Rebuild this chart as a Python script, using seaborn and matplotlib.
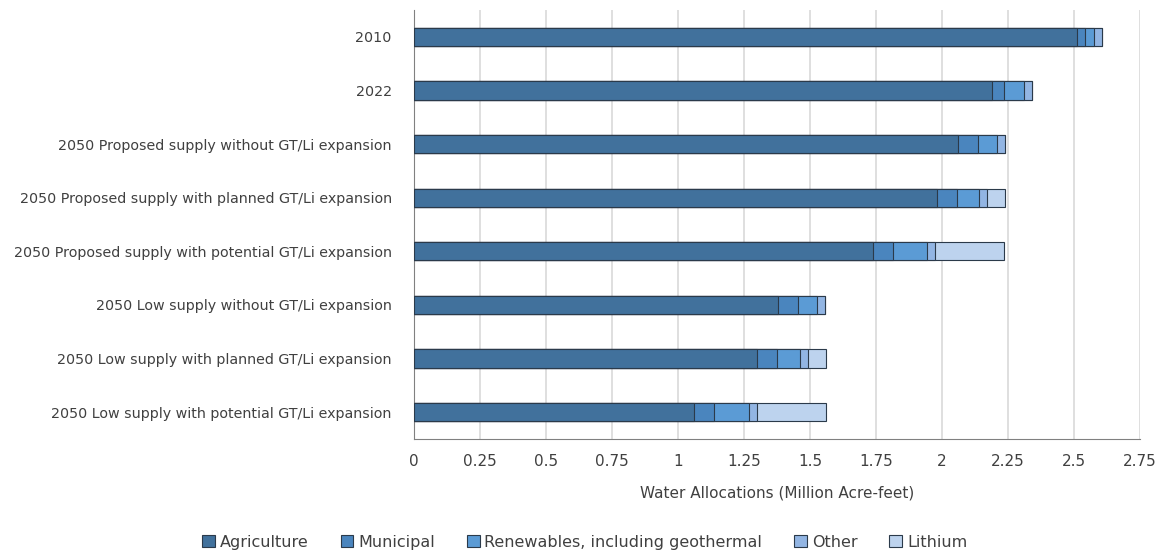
import matplotlib
matplotlib.use("Agg")
import matplotlib.pyplot as plt
from matplotlib.patches import Patch
import pandas as pd
import seaborn as sns

# --- Data (Million Acre-feet) ---
SCENARIOS = [
    "2010",
    "2022",
    "2050 Proposed supply without GT/Li expansion",
    "2050 Proposed supply with planned GT/Li expansion",
    "2050 Proposed supply with potential GT/Li expansion",
    "2050 Low supply without GT/Li expansion",
    "2050 Low supply with planned GT/Li expansion",
    "2050 Low supply with potential GT/Li expansion",
]
agriculture = [2.51, 2.19, 2.06, 1.98, 1.74, 1.38, 1.30, 1.06]
municipal = [0.03, 0.045, 0.075, 0.075, 0.075, 0.075, 0.075, 0.075]
renewables = [0.035, 0.075, 0.075, 0.087, 0.13, 0.072, 0.087, 0.135]
other = [0.03, 0.03, 0.03, 0.03, 0.03, 0.03, 0.03, 0.03]
lithium = [0.0, 0.0, 0.0, 0.068, 0.26, 0.0, 0.068, 0.26]

SECTORS = ["Agriculture", "Municipal", "Renewables, including geothermal", "Other", "Lithium"]
COLORS = ["#41719C", "#4A85BE", "#5B9BD5", "#92B5E3", "#BDD3EE"]
X_TICKS = [0, 0.25, 0.5, 0.75, 1, 1.25, 1.5, 1.75, 2, 2.25, 2.5, 2.75]

sns.set_style("white")
plt.rcParams["font.family"] = ["DejaVu Sans"]

df = pd.DataFrame({"Scenario": SCENARIOS, "Agriculture": agriculture, "Municipal": municipal,
                   "Renewables, including geothermal": renewables, "Other": other,
                   "Lithium": lithium})
cum = df[SECTORS].cumsum(axis=1)
cum["Scenario"] = df["Scenario"]

fig = plt.figure(figsize=(11.58, 5.53), dpi=100)
ax = fig.add_axes([414 / 1158, 1 - 439 / 553, (1140 - 414) / 1158, (439 - 10) / 553])

# stacked bars: draw cumulative totals from the outermost segment inwards
for sector, color in reversed(list(zip(SECTORS, COLORS))):
    sns.barplot(data=cum, x=sector, y="Scenario", color=color, orient="h", width=0.34,
                edgecolor="#2b3a4a", linewidth=0.8, saturation=1, ax=ax, zorder=3)

ax.set_xlim(0, 2.75)
ax.set_xticks(X_TICKS)
ax.set_xticklabels([f"{t:g}" for t in X_TICKS])
ax.grid(axis="x", color="#d9d9d9", linewidth=1.2, zorder=0)
ax.set_axisbelow(True)
ax.set_ylabel("")
ax.set_xlabel("Water Allocations (Million Acre-feet)", fontsize=11, color="#404040", labelpad=12)
ax.tick_params(axis="both", length=0, colors="#404040")
ax.tick_params(axis="x", labelsize=11, pad=11)
ax.tick_params(axis="y", labelsize=10.3, pad=16)
for side in ["top", "right"]:
    ax.spines[side].set_visible(False)
ax.spines["left"].set_color("#808080")
ax.spines["bottom"].set_color("#808080")

handles = [Patch(facecolor=c, edgecolor="#2b3a4a", linewidth=0.8, label=s)
           for s, c in zip(SECTORS, COLORS)]
fig.legend(handles=handles, loc="lower center", bbox_to_anchor=(0.505, -0.02), ncol=5,
           frameon=False, fontsize=11.5, handlelength=0.8, handleheight=0.8,
           handletextpad=0.3, columnspacing=2.0, labelcolor="#404040")

fig.savefig("out.png", dpi=100)
